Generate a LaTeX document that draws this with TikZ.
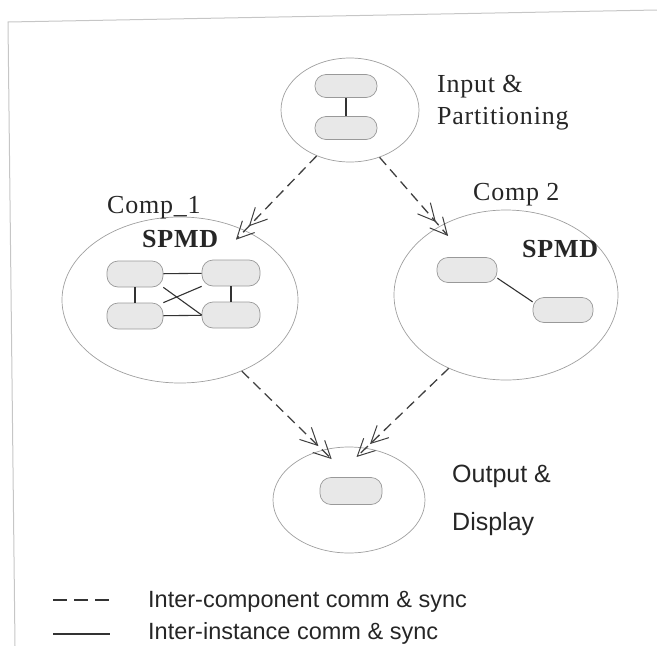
\documentclass[tikz,border=0pt]{standalone}
\usepackage{fontspec}
\setmainfont[LetterSpace=3]{Liberation Serif}
\newfontfamily\legendfont{Liberation Sans}
\usetikzlibrary{arrows.meta,shapes.geometric}

\begin{document}
\begin{tikzpicture}
    [
    x=1pt, y=-1pt,
    region/.style={ellipse,draw=gray!75,line width=0.7pt,inner sep=0pt},
    pill/.style={rectangle,rounded corners=11pt,draw=gray!80,fill=gray!18,line width=0.7pt,
        minimum width=60pt,minimum height=25pt,inner sep=0pt},
    link/.style={draw=black!80,line width=1.1pt},
    flow/.style={draw=black!75,line width=1.3pt,dash pattern=on 10pt off 6pt,
        -{Straight Barb[length=17pt,width=17pt,line width=1pt]Straight Barb[length=17pt,width=17pt,line width=1pt,sep=-13pt]}},
    title/.style={font=\fontsize{26}{28}\selectfont,text=black!85,anchor=base west,inner sep=0pt},
    legend/.style={font=\legendfont\fontsize{23.5}{28}\selectfont,text=black!85,anchor=base west,inner sep=0pt}
    ]
\useasboundingbox (0,0) rectangle (657,646);
% frame of the scanned page
\draw[gray!45,line width=1pt] (657,10) -- (8,22) -- (15,646);

% components
\node[region,minimum width=138pt,minimum height=104pt] (inp) at (350,110) {};
\node[region,minimum width=236pt,minimum height=166pt] (compa) at (180,300) {};
\node[region,minimum width=224pt,minimum height=170pt] (compb) at (506,295) {};
\node[region,minimum width=152pt,minimum height=106pt] (outp) at (349,500) {};

% instances
\node[pill,minimum width=62pt,minimum height=23pt] (i1) at (346,86) {};
\node[pill,minimum width=62pt,minimum height=23pt] (i2) at (346,128) {};
\node[pill,minimum width=56pt,minimum height=26pt] (a1) at (135,274) {};
\node[pill,minimum width=58pt,minimum height=26pt] (a2) at (231,273) {};
\node[pill,minimum width=56pt,minimum height=26pt] (a3) at (135,316) {};
\node[pill,minimum width=58pt,minimum height=26pt] (a4) at (231,315) {};
\node[pill] (b1) at (467,270) {};
\node[pill] (b2) at (563,310) {};
\node[pill,minimum width=62pt,minimum height=27pt] (o1) at (351,491) {};

\draw[link] (i1) -- (i2);
\draw[link] (a1) -- (a2);
\draw[link] (a3) -- (a4);
\draw[link] (a1) -- (a3);
\draw[link] (a2) -- (a4);
\draw[link] (a1.south east) -- (a4.west);
\draw[link] (a3.north east) -- (a2.south west);
\draw[link] (b1.-15) -- (b2.165);

% labels
\node[title] (intxt) at (437,92) {Input \&};
\node[title] (parttxt) at (437,124) {Partitioning};
\node[title] (catxt) at (107,213) {Comp\_1};
\node[title] (cbtxt) at (473,200) {Comp 2};
\node[title,font=\fontsize{26}{28}\selectfont\bfseries] (sa) at (142,247) {SPMD};
\node[title,font=\fontsize{26}{28}\selectfont\bfseries] (sb) at (522,257) {SPMD};
\node[legend,font=\legendfont\fontsize{25}{28}\selectfont] (outtxt) at (452,482) {Output \&};
\node[legend,font=\legendfont\fontsize{25}{28}\selectfont] (disptxt) at (452,530) {Display};

% inter-component comm
\draw[flow] (inp.234) -- (compa.47);
\draw[flow] (inp.302) -- (compb.134);
\draw[flow] (compa.311) -- (outp.118);
\draw[flow] (compb.232) -- (outp.72);

% legend
\coordinate (d1) at (53,600);
\coordinate (d2) at (110,600);
\coordinate (s1) at (53,634);
\coordinate (s2) at (110,634);
\draw[link,line width=1.3pt,dash pattern=on 14pt off 7pt] (d1) -- (d2);
\draw[link,line width=1.5pt] (s1) -- (s2);
\node[legend] (ltxt1) at (148,607) {Inter-component comm \& sync};
\node[legend] (ltxt2) at (148,639) {Inter-instance comm \& sync};
\end{tikzpicture}
\end{document}
